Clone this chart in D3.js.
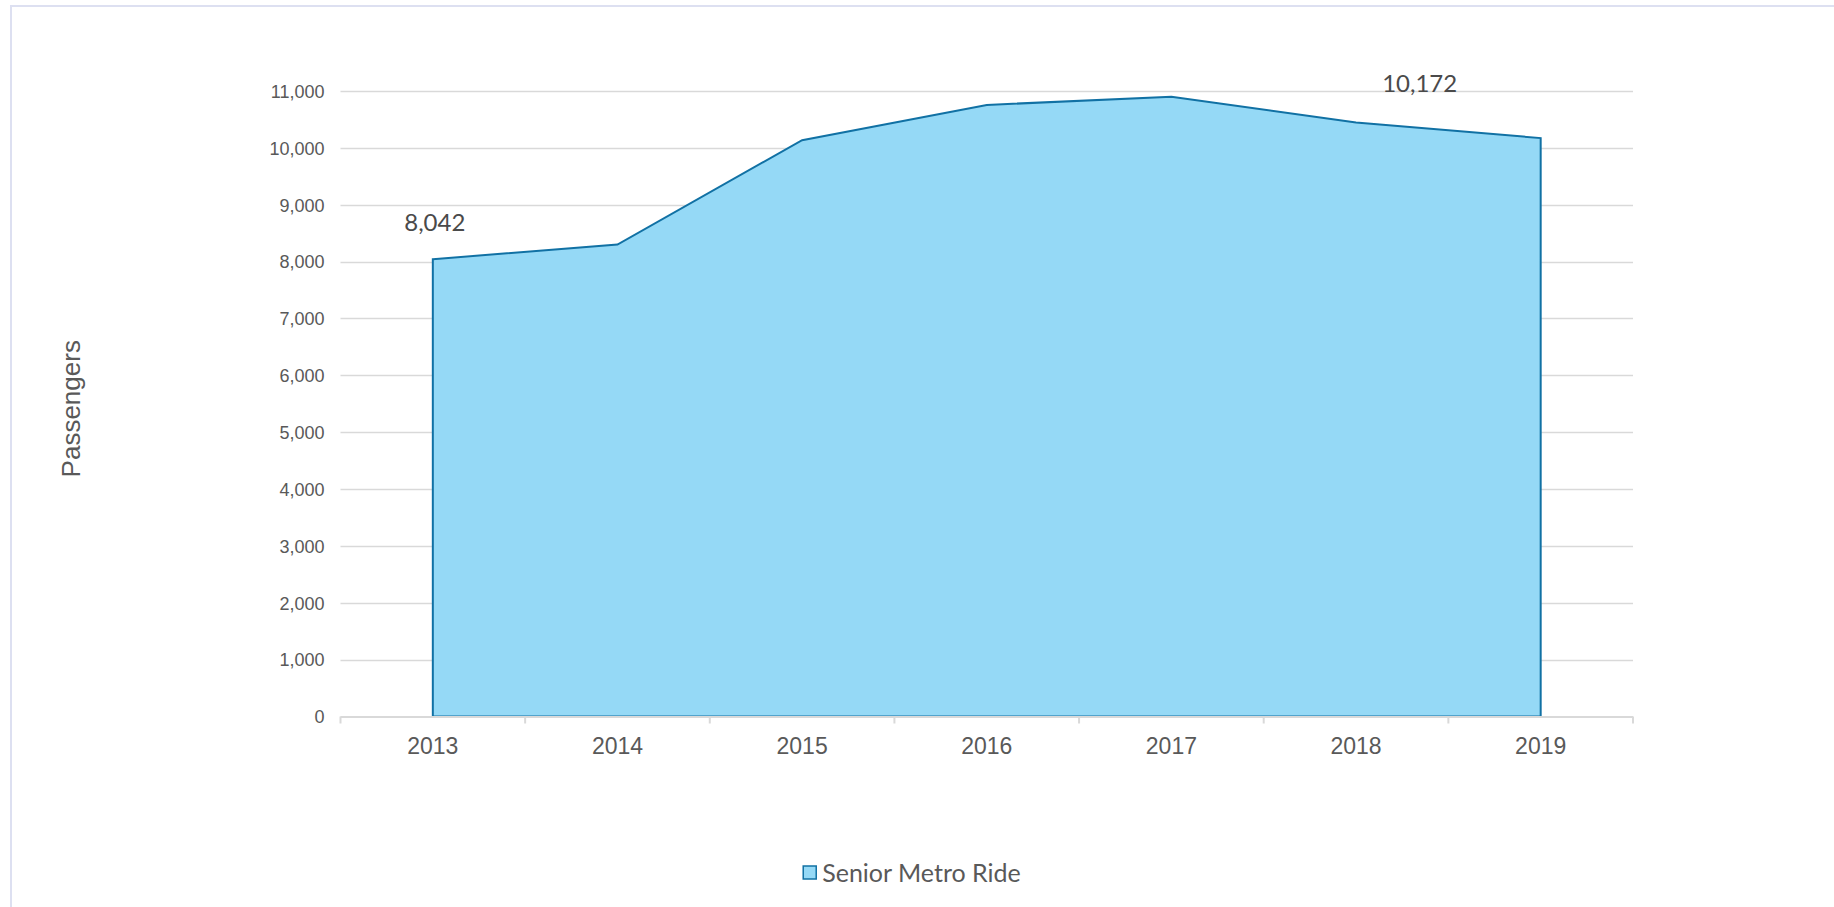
<!DOCTYPE html>
<html>
<head>
<meta charset="utf-8">
<script src="https://cdn.jsdelivr.net/npm/d3@7"></script>
<style>
  html, body { margin: 0; padding: 0; background: #ffffff; }
  svg { display: block; }
</style>
</head>
<body>
<svg id="chart" width="1834" height="907"></svg>
<script>
// ---- data ----
const years = ["2013", "2014", "2015", "2016", "2017", "2018", "2019"];
const passengers = [8042, 8300, 10135, 10755, 10900, 10445, 10172];
const yTicks = [0, 1000, 2000, 3000, 4000, 5000, 6000, 7000, 8000, 9000, 10000, 11000];
const seriesName = "Senior Metro Ride";
const labelled = [{ year: "2013", value: 8042 }, { year: "2019", value: 10172 }];

(function () {
const svg = d3.select("#chart");
const W = 1834, H = 907;

// frame
svg.append("rect")
  .attr("x", 11).attr("y", 6)
  .attr("width", W + 20).attr("height", H + 20)
  .attr("fill", "none").attr("stroke", "#dde0f1").attr("stroke-width", 2);

const pL = 340.5, pR = 1633, pT = 91, pB = 716.5;

const x = d3.scaleBand().domain(years).range([pL, pR]).paddingInner(0).paddingOuter(0);
const y = d3.scaleLinear().domain([0, 11000]).range([pB, pT]);
const cx = d => x(d) + x.bandwidth() / 2;

// gridlines
svg.append("g").selectAll("line").data(yTicks.filter(t => t > 0)).join("line")
  .attr("x1", pL).attr("x2", pR)
  .attr("y1", d => Math.round(y(d)) + 0.5).attr("y2", d => Math.round(y(d)) + 0.5)
  .attr("stroke", "#d9d9d9").attr("stroke-width", 1.3);

// area
const data = years.map((yr, i) => ({ year: yr, value: passengers[i] }));
const area = d3.area().x(d => cx(d.year)).y0(y(0)).y1(d => y(d.value));
svg.append("path").datum(data)
  .attr("d", area)
  .attr("fill", "#95d9f6")
  .attr("stroke", "#1171a4").attr("stroke-width", 2).attr("stroke-linejoin", "miter");

// y axis labels
const yAxis = d3.axisLeft(y).tickValues(yTicks).tickSize(0).tickPadding(0)
  .tickFormat(d3.format(","));
const gy = svg.append("g").attr("transform", `translate(${pL - 16},0)`).call(yAxis);
gy.select(".domain").remove();
gy.selectAll("text")
  .attr("font-family", "Liberation Sans, Arial, sans-serif")
  .attr("font-size", 18).attr("fill", "#595959").attr("dy", "0.35em");

// x axis
const xAxis = d3.axisBottom(x).tickSize(0).tickPadding(0);
const gx = svg.append("g").attr("transform", `translate(0,${pB})`).call(xAxis);
gx.select(".domain").remove();
gx.selectAll("text")
  .attr("font-family", "Liberation Sans, Arial, sans-serif")
  .attr("font-size", 23).attr("fill", "#595959").attr("y", 37).attr("dy", 0);

svg.append("line")
  .attr("x1", pL).attr("x2", pR).attr("y1", pB + 0.5).attr("y2", pB + 0.5)
  .attr("stroke", "#d9d9d9").attr("stroke-width", 2);
const xTickPos = years.map(d => x(d)).concat([pR]);
svg.append("g").selectAll("line").data(xTickPos).join("line")
  .attr("x1", d => d).attr("x2", d => d)
  .attr("y1", pB).attr("y2", pB + 7)
  .attr("stroke", "#d9d9d9").attr("stroke-width", 2);

// data labels
svg.append("g").selectAll("text").data(labelled).join("text")
  .attr("x", (d, i) => i === 0 ? cx(d.year) + 2 : cx(d.year) - 121)
  .attr("y", (d, i) => i === 0 ? y(d.value) - 28 : y(d.value) - 46)
  .attr("text-anchor", "middle")
  .attr("font-family", "Lato, sans-serif")
  .attr("font-size", 24).attr("fill", "#4a4a4a")
  .text(d => d3.format(",")(d.value));

// y title
svg.append("text")
  .attr("transform", `translate(80,${(pT + pB) / 2 + 5}) rotate(-90)`)
  .attr("text-anchor", "middle")
  .attr("font-family", "Liberation Sans, Arial, sans-serif")
  .attr("font-size", 26).attr("fill", "#595959")
  .text("Passengers");

// legend
const lg = svg.append("g");
lg.append("rect").attr("x", 0).attr("y", -7).attr("width", 13).attr("height", 13)
  .attr("fill", "#95d9f6").attr("stroke", "#1171a4").attr("stroke-width", 1.5);
const lt = lg.append("text").attr("x", 19).attr("y", 0).attr("dy", "0.35em")
  .attr("font-family", "Lato, sans-serif")
  .attr("font-size", 25).attr("fill", "#595959")
  .text(seriesName);
const bw = 19 + lt.node().getComputedTextLength();
lg.attr("transform", `translate(${912 - bw / 2},873)`);
})();
</script>
</body>
</html>
